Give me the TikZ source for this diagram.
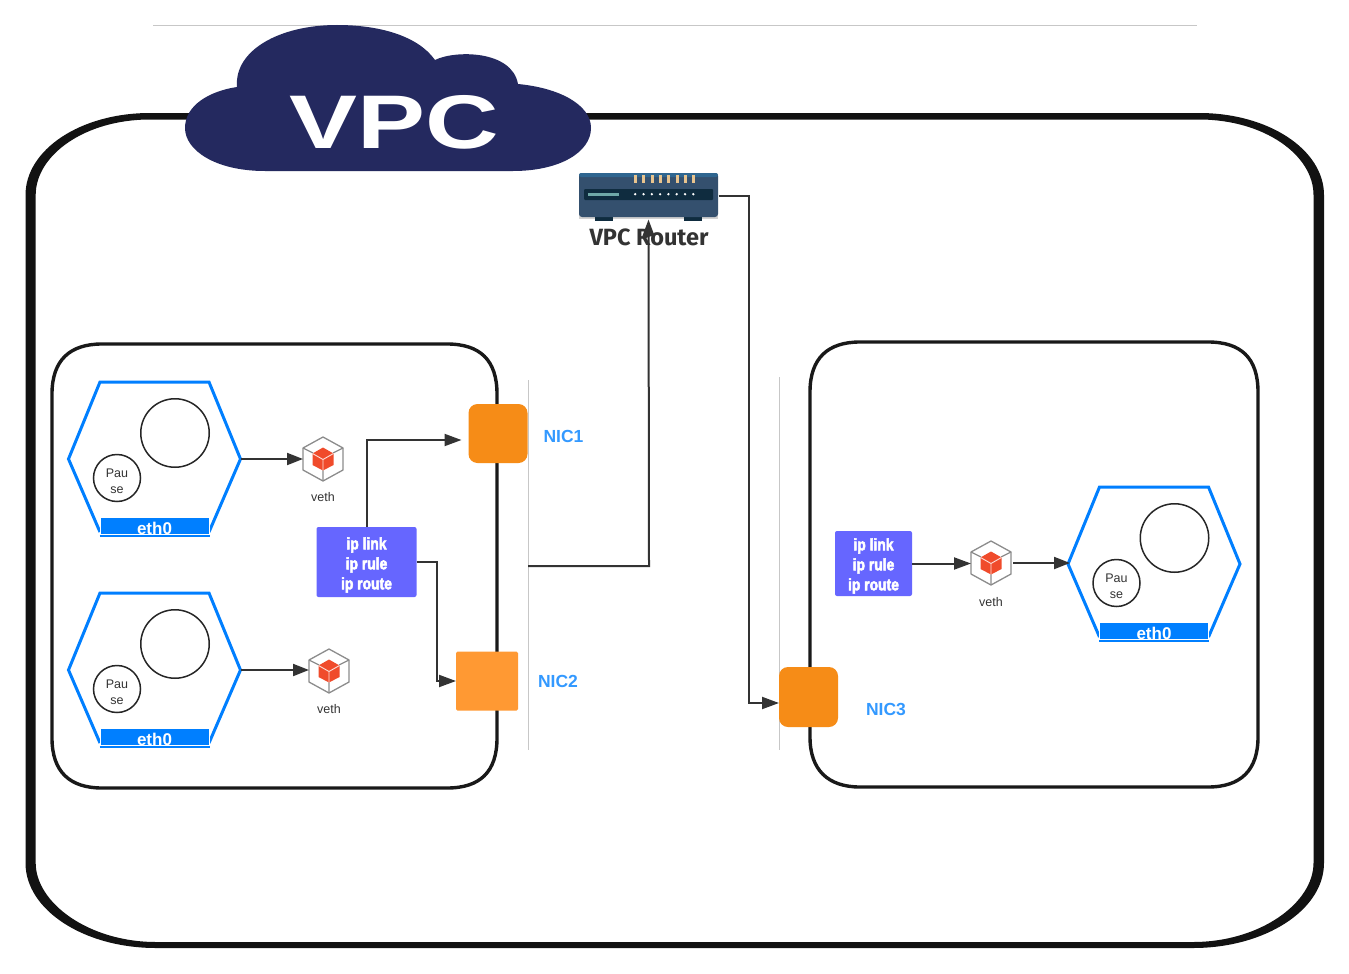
\documentclass[tikz,border=0pt]{standalone}
\usepackage{fontspec}
\setmainfont{Liberation Sans}
\newfontfamily\narrowfont[FakeStretch=0.84,FakeBold=3]{Liberation Sans Bold}
\newfontfamily\sketchfont{Fira Sans}
\usetikzlibrary{arrows.meta,calc}
\definecolor{podblue}{HTML}{007FFF}
\definecolor{niclabel}{HTML}{3399FF}
\definecolor{nicdark}{HTML}{F68C17}
\definecolor{niclight}{HTML}{FF9933}
\definecolor{routebox}{HTML}{6666FF}
\definecolor{cloudnavy}{HTML}{24295F}
\definecolor{conn}{HTML}{333333}
\definecolor{cubered}{HTML}{F04B2B}
\definecolor{routerbody}{HTML}{34506E}
\definecolor{routertop}{HTML}{2F6690}
\definecolor{routerpanel}{HTML}{0F2C3F}
\definecolor{routerled}{HTML}{6FA8A8}
\definecolor{routerpin}{HTML}{E8C48E}
\tikzset{
  x=1pt,y=-1pt,
  conn/.style={draw=conn,line width=2pt,-{Triangle[length=17pt,width=12pt]}},
  connshort/.style={draw=conn,line width=2pt,-{Triangle[length=16pt,width=12pt]}},
  host/.style={draw=black!90,line width=3.4pt},
  rulebox/.style={fill=routebox,rounded corners=2pt,inner sep=0pt},
  ruletext/.style={inner sep=0pt,text=white,font=\narrowfont\fontsize{16.5}{20}\selectfont,align=center},
  niclab/.style={text=niclabel,font=\bfseries\fontsize{17.5}{20}\selectfont},
  smalltext/.style={text=conn,font=\fontsize{12.5}{16}\selectfont,align=center},
  ghost/.style={inner sep=0pt,outer sep=0pt},
  thingray/.style={draw=black!22,line width=0.8pt},
}
% name, cx, cy (hexagon centre)
\newcommand{\podhex}[3]{%
  \node[ghost,minimum width=172pt,minimum height=154pt] (#1) at (#2,#3) {};
  \draw[podblue,line width=3pt,line join=miter] (#2-54.5,#3+73) -- (#2-86,#3) -- (#2-54.5,#3-77) -- (#2+54.5,#3-77) -- (#2+86,#3) -- (#2+54.5,#3+73);
  \draw[podblue,line width=1.4pt] (#2-55,#3+77) -- (#2+55,#3+77);
  \node[ghost,draw=white,line width=0.8pt,fill=podblue,minimum width=109pt,minimum height=16.5pt] (#1bar) at (#2,#3+67) {};
  \node[ghost,text=white,font=\bfseries\fontsize{17}{18}\selectfont] (#1eth) at (#2,#3+69) {eth0};
  \node[ghost,circle,draw=black!85,line width=1.5pt,minimum size=68.5pt,fill=white] (#1app) at (#2+20.5,#3-26) {};
  \node[ghost,circle,draw=black!85,line width=1.5pt,minimum size=47pt,fill=white] (#1pause) at (#2-37.5,#3+19) {};
  \node[ghost,smalltext] (#1pausetext) at (#2-37.5,#3+22) {Pau\\se};
}
% name, cx, cy, label-y
\newcommand{\vethicon}[4]{%
  \node[ghost,minimum width=40pt,minimum height=44pt] (#1) at (#2,#3) {};
  \begin{scope}[shift={(#2,#3)}]
    \draw[black!45,line width=1.3pt,line join=round] (0,-22) -- (20,-11) -- (20,11) -- (0,22) -- (-20,11) -- (-20,-11) -- cycle;
    \draw[black!45,line width=1.3pt] (-20,-11) -- (-10,-6) (20,-11) -- (10,-6) (0,22) -- (0,11);
    \fill[cubered] (0,-11.5) -- (10.5,-5.5) -- (10.5,6) -- (0,11.5) -- (-10.5,6) -- (-10.5,-5.5) -- cycle;
    \draw[white!85!cubered,line width=0.9pt] (-10.5,-5.5) -- (0,0.5) -- (10.5,-5.5) (0,0.5) -- (0,11.5);
  \end{scope}
  \node[ghost,smalltext] (#1label) at (#2,#4) {veth};
}
\begin{document}
\begin{tikzpicture}
\useasboundingbox (0,0) rectangle (1349,974);
\fill[white] (0,0) rectangle (1349,974);

% top rule
\coordinate (ruleL) at (153,25); \coordinate (ruleR) at (1197,25);
\draw[thingray] (ruleL) -- (ruleR);

% VPC outer boundary: heavier at the sides than at top and bottom
\fill[black!93,even odd rule]
  (150,113) -- (1199,113)
  .. controls (1269,113) and (1324,150) .. (1324,195)
  -- (1324,863)
  .. controls (1324,910) and (1265,948) .. (1193,948)
  -- (156,948)
  .. controls (84,948) and (25.5,910) .. (25.5,863)
  -- (25.5,195)
  .. controls (25.5,150) and (80,113) .. (150,113) -- cycle
  (150,119.5) -- (1199,119.5)
  .. controls (1264,119.5) and (1313.5,155) .. (1313.5,195)
  -- (1313.5,863)
  .. controls (1313.5,903) and (1260,942) .. (1193,942)
  -- (156,942)
  .. controls (89,942) and (35.7,903) .. (35.7,863)
  -- (35.7,195)
  .. controls (35.7,155) and (85,119.5) .. (150,119.5) -- cycle;

% cloud
\fill[cloudnavy]
  (265,171)
  .. controls (215,171) and (185,150) .. (185,128)
  .. controls (185,105) and (210,91) .. (237,87)
  .. controls (234,50) and (280,25) .. (337,25)
  .. controls (380,25) and (418,36) .. (435,60)
  .. controls (455,50) and (512,50) .. (518,84)
  .. controls (560,88) and (591,105) .. (591,128)
  .. controls (591,152) and (560,171) .. (513,171) -- cycle;
\node[ghost,text=white,font=\bfseries\fontsize{76}{76}\selectfont,xscale=1.34] (vpc) at (394,122) {VPC};

% host boxes
\draw[host] (52,394) .. controls (52,360) and (70,344) .. (102,344) -- (447,344) .. controls (480,344) and (497,360) .. (497,394) -- (497,738) .. controls (497,772) and (480,788) .. (447,788) -- (102,788) .. controls (70,788) and (52,772) .. (52,738) -- cycle;
\draw[host] (810,392) .. controls (810,358) and (828,342) .. (860,342) -- (1208,342) .. controls (1241,342) and (1258,358) .. (1258,392) -- (1258,737) .. controls (1258,770) and (1241,787) .. (1208,787) -- (860,787) .. controls (828,787) and (810,770) .. (810,737) -- cycle;

% thin verticals
\coordinate (busLtop) at (528,380); \coordinate (busLbot) at (528,750);
\coordinate (busRtop) at (779,377); \coordinate (busRbot) at (779,750);
\coordinate (busLout) at (528,566);
\draw[thingray] (busLtop) -- (busLbot);
\draw[thingray] (busRtop) -- (busRbot);

% pods
\podhex{podA}{154.5}{459}
\podhex{podB}{154.5}{670}
\podhex{podC}{1154}{564}

% veth
\vethicon{vethA}{323}{459}{497}
\vethicon{vethB}{329}{671}{709}
\vethicon{vethC}{991}{563}{602}

% rule boxes
\node[rulebox,minimum width=100pt,minimum height=70pt] (ruleA) at (366.5,562) {};
\node[ruletext] (ruleAtext) at (366.5,565) {ip link\\ip rule\\ip route};
\node[rulebox,minimum width=77pt,minimum height=65pt] (ruleB) at (873.5,563.5) {};
\node[ruletext] (ruleBtext) at (873.5,566) {ip link\\ip rule\\ip route};

% NICs
\node[ghost,fill=nicdark,rounded corners=9pt,minimum width=59pt,minimum height=59pt] (nicA) at (498,433.5) {};
\node[ghost,fill=niclight,rounded corners=1.5pt,minimum width=62pt,minimum height=59pt] (nicB) at (487,681) {};
\node[ghost,fill=nicdark,rounded corners=9pt,minimum width=59pt,minimum height=60pt] (nicC) at (808.5,697) {};
\node[niclab] (nicAl) at (563.5,436) {NIC1};
\node[niclab] (nicBl) at (558,681) {NIC2};
\node[niclab] (nicCl) at (886,709) {NIC3};

% router
\node[ghost,minimum width=140pt,minimum height=47pt] (router) at (648.5,196) {};
\begin{scope}[shift={(579,173)}]
  \fill[black!18] (0,40) rectangle (139,46);
  \fill[routerpanel] (16,44) rectangle (34,47.5);
  \fill[routerpanel] (105,44) rectangle (123,47.5);
  \fill[routerbody,rounded corners=3pt] (0,0) rectangle (139,44);
  \fill[routertop,rounded corners=2pt] (0,0) rectangle (139,4);
  \fill[routerpanel,rounded corners=1pt] (5,16) rectangle (134,27);
  \fill[routerled] (9,20) rectangle (40,22.5);
  \foreach \i in {0,...,7} {
    \fill[routerpin] (55+\i*8.3,2) rectangle (58+\i*8.3,10);
    \fill[white] (56.2+\i*8.3,21.2) circle (1.3);
  }
\end{scope}

% connectors
\draw[connshort] (podA.east) -- (vethA.west);
\draw[connshort] (podB.east) -- (podB.east -| vethB.west);
\draw[conn] (ruleA.north) |- ([xshift=-7pt,yshift=-6.5pt]nicA.west);
\draw[conn] (ruleA.east) -- ++(20.5,0) |- (nicB.west);
\draw[conn] (busLout) -- (649,566) -- (router.south);
\draw[conn] (router.east) -- (749,196) |- ([yshift=-6pt]nicC.west);
\draw[conn] (ruleB.east) -- (ruleB.east -| vethC.west);
\draw[connshort] ([xshift=2pt]vethC.east) -- ([xshift=2pt]vethC.east -| podC.west);

\node[ghost,text=black!80,font=\sketchfont\bfseries\fontsize{23.5}{24}\selectfont] (routerlabel) at (649,237) {VPC Router};
\end{tikzpicture}
\end{document}
